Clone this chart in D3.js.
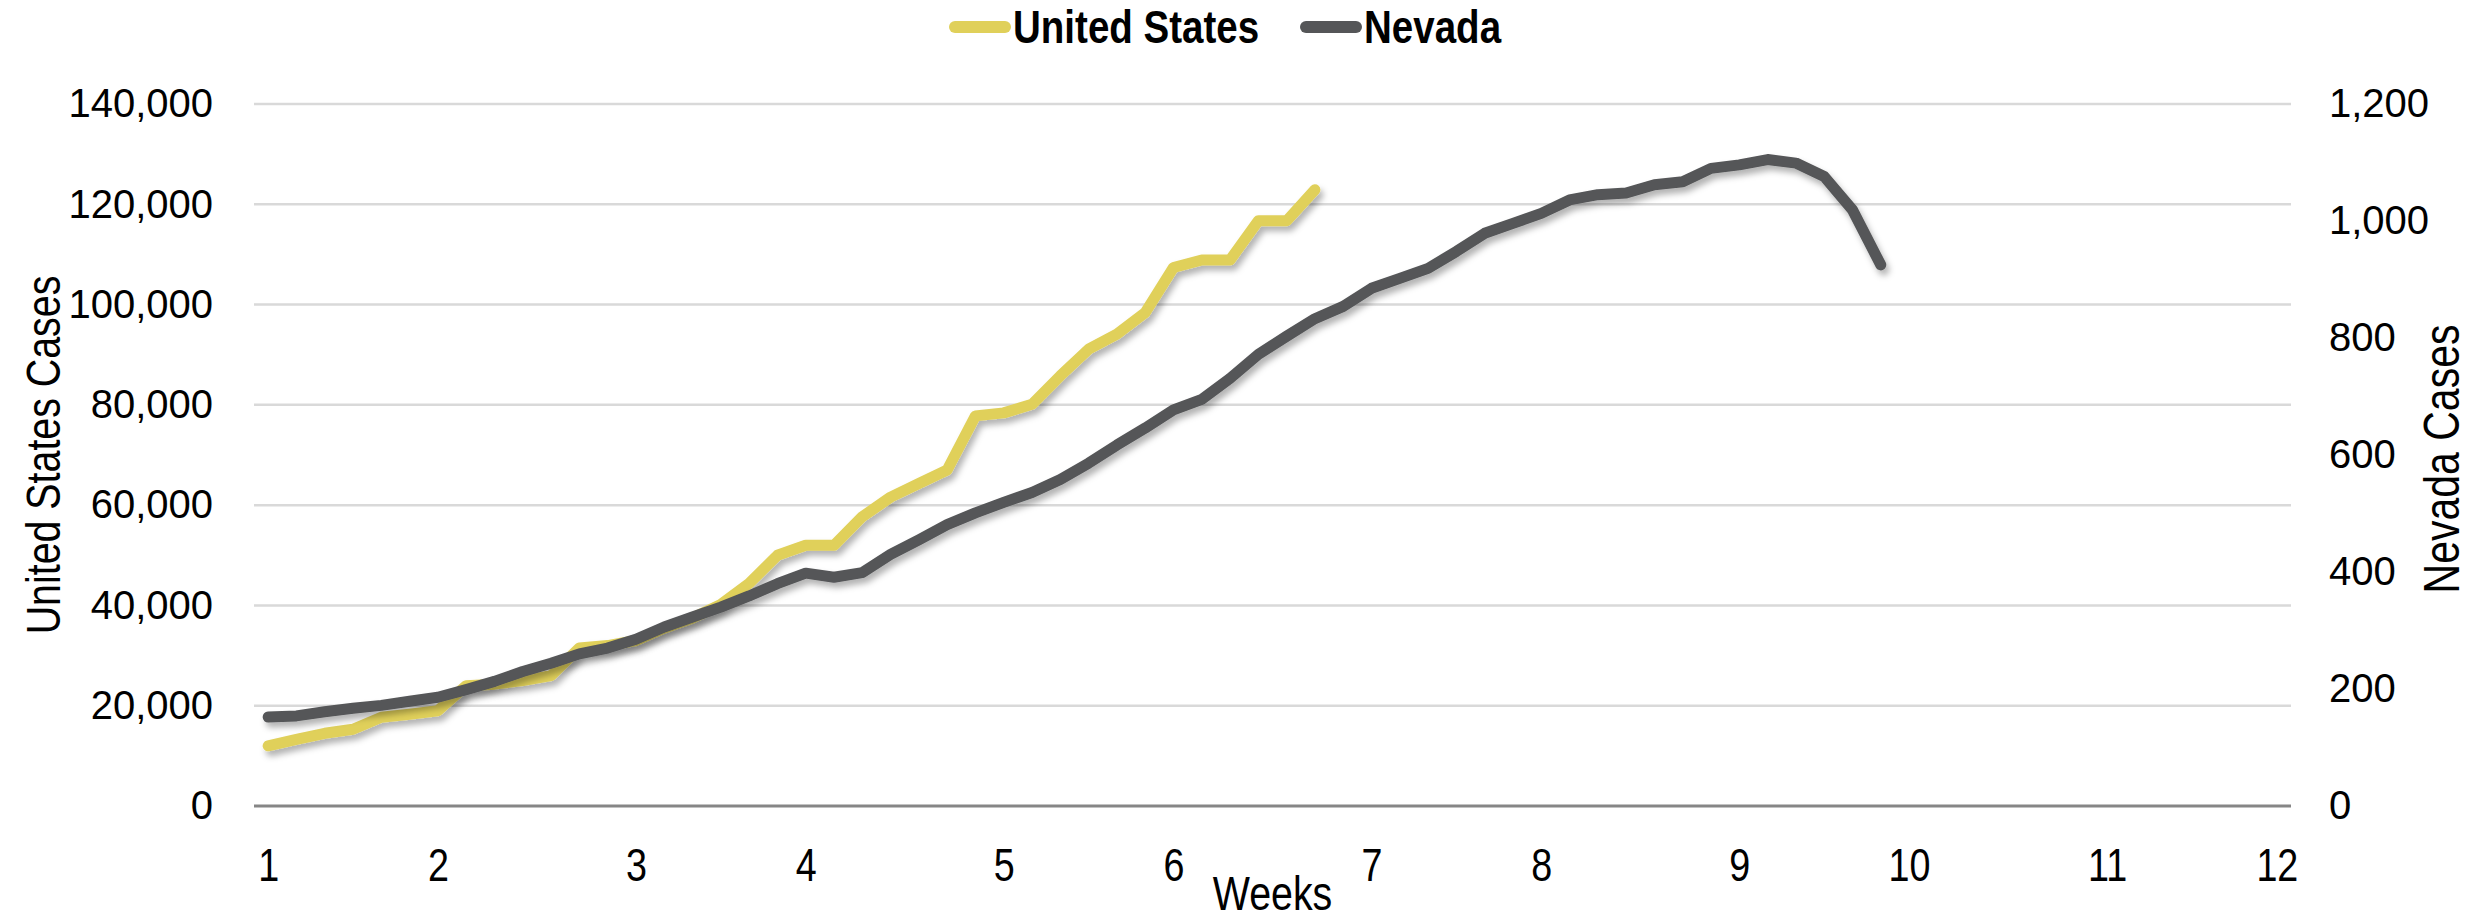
<!DOCTYPE html>
<html>
<head>
<meta charset="utf-8">
<script src="https://cdn.jsdelivr.net/npm/d3@7"></script>
<style>
    body { margin: 0; background: #fff; }
    svg text { fill: #000; }
</style>
</head>
<body>
<script>
// daily values, one entry per day starting at day 1 (week 1)
var usCases = [12000, 13300, 14500, 15300, 17700, 18300, 19000, 24000, 24300, 25000,
               26000, 31500, 32000, 33000, 35500, 37500, 40200, 44400, 50000, 52000,
               52000, 57700, 61600, 64300, 67000, 77800, 78400, 80100, 85800, 91100,
               94100, 98400, 107400, 108900, 108900, 116700, 116700, 122900];

var nevadaCases = [152, 154, 161, 167, 172, 179, 186, 199, 213, 230,
                   244, 260, 270, 285, 306, 323, 340, 359, 380, 398,
                   391, 399, 430, 455, 481, 501, 519, 536, 558, 586,
                   617, 646, 677, 695, 731, 772, 803, 833, 854, 885,
                   902, 919, 948, 979, 996, 1013, 1036, 1045, 1048, 1062,
                   1067, 1090, 1096, 1105, 1099, 1076, 1019, 925];

var numberOfDays = 72;
var weekLabels = ["1", "2", "3", "4", "5", "6", "7", "8", "9", "10", "11", "12"];
var weekTickDays = [0, 6, 13, 19, 26, 32, 39, 45, 52, 58, 65, 71];
var usTicks = [0, 20000, 40000, 60000, 80000, 100000, 120000, 140000];
var nevadaTicks = [0, 200, 400, 600, 800, 1000, 1200];

var seriesNames = ["United States", "Nevada"];
var seriesColors = ["#e0d05a", "#555658"];

var svgWidth = 2478,
    svgHeight = 922,
    plotLeft = 254,
    plotRight = 2291,
    plotTop = 104,
    plotBottom = 806,
    squeeze = "scale(0.82,1)", // no narrow font installed, so squash the regular one
    plainFont = "'Liberation Sans', Arial, sans-serif";

var svg = d3.select("body")
                .append("svg")
                    .attr("width", svgWidth)
                    .attr("height", svgHeight);

var defs = svg.append("defs");
defs.append("filter")
        .attr("id", "shadow")
        .attr("x", "-5%").attr("y", "-5%")
        .attr("width", "110%").attr("height", "115%")
    .append("feDropShadow")
        .attr("dx", 3)
        .attr("dy", 5)
        .attr("stdDeviation", 3)
        .attr("flood-color", "#000")
        .attr("flood-opacity", 0.3);

var x = d3.scaleLinear()
            .domain([-0.5, numberOfDays - 0.5])
            .range([plotLeft, plotRight]);

var yLeft = d3.scaleLinear()
            .domain([0, 140000])
            .range([plotBottom, plotTop]);

var yRight = d3.scaleLinear()
            .domain([0, 1200])
            .range([plotBottom, plotTop]);

// gridlines follow the left axis
svg.append("g")
    .selectAll("line")
        .data(usTicks.filter(function(d) { return d > 0; }))
            .enter()
                .append("line")
                    .attr("x1", plotLeft)
                    .attr("x2", plotRight)
                    .attr("y1", function(d) { return yLeft(d); })
                    .attr("y2", function(d) { return yLeft(d); })
                    .style("stroke", "#d9d9d9")
                    .style("stroke-width", 2.5);

svg.append("line")
    .attr("x1", plotLeft)
    .attr("x2", plotRight)
    .attr("y1", yLeft(0))
    .attr("y2", yLeft(0))
    .style("stroke", "#868686")
    .style("stroke-width", 3);

// left axis
var leftAxis = svg.append("g")
                .attr("transform", "translate(" + (plotLeft - 41) + ",0)")
                .call(d3.axisLeft(yLeft)
                        .tickValues(usTicks)
                        .tickSize(0)
                        .tickPadding(0)
                        .tickFormat(d3.format(",")));
leftAxis.select(".domain").remove();
leftAxis.selectAll("text")
    .style("font-family", plainFont)
    .style("font-size", "40px")
    .style("fill", "#000");

// right axis
var rightAxis = svg.append("g")
                .attr("transform", "translate(" + (plotRight + 38) + ",0)")
                .call(d3.axisRight(yRight)
                        .tickValues(nevadaTicks)
                        .tickSize(0)
                        .tickPadding(0)
                        .tickFormat(d3.format(",")));
rightAxis.select(".domain").remove();
rightAxis.selectAll("text")
    .style("font-family", plainFont)
    .style("font-size", "40px")
    .style("fill", "#000");

// bottom axis, week labels sit on their first day
var bottomAxis = svg.append("g")
                .attr("transform", "translate(0," + (plotBottom + 42) + ")")
                .call(d3.axisBottom(x)
                        .tickValues(weekTickDays)
                        .tickSize(0)
                        .tickPadding(0)
                        .tickFormat(function(d, i) { return weekLabels[i]; }));
bottomAxis.select(".domain").remove();
bottomAxis.selectAll("text")
    .attr("dy", "0.72em")
    .attr("transform", squeeze)
    .style("font-family", plainFont)
    .style("font-size", "46px")
    .style("fill", "#000");

// axis titles
svg.append("text")
    .text("United States Cases")
    .attr("transform", "translate(43," + ((plotTop + plotBottom) / 2) + ") rotate(-90) " + squeeze)
    .attr("text-anchor", "middle")
    .attr("dominant-baseline", "central")
    .style("font-family", plainFont)
    .style("font-size", "48px");

svg.append("text")
    .text("Nevada Cases")
    .attr("transform", "translate(2442," + ((plotTop + plotBottom) / 2 + 4) + ") rotate(-90) " + squeeze)
    .attr("text-anchor", "middle")
    .attr("dominant-baseline", "central")
    .style("font-family", plainFont)
    .style("font-size", "50px");

svg.append("text")
    .text("Weeks")
    .attr("transform", "translate(" + ((plotLeft + plotRight) / 2) + ",893) " + squeeze)
    .attr("text-anchor", "middle")
    .attr("dominant-baseline", "central")
    .style("font-family", plainFont)
    .style("font-size", "48px");

// lines
var lineUS = d3.line()
                .x(function(d, i) { return x(i); })
                .y(function(d) { return yLeft(d); });

var lineNV = d3.line()
                .x(function(d, i) { return x(i); })
                .y(function(d) { return yRight(d); });

svg.append("path")
    .datum(usCases)
    .attr("d", lineUS)
    .attr("filter", "url(#shadow)")
    .style("fill", "none")
    .style("stroke", seriesColors[0])
    .style("stroke-width", 11)
    .style("stroke-linejoin", "round")
    .style("stroke-linecap", "round");

svg.append("path")
    .datum(nevadaCases)
    .attr("d", lineNV)
    .attr("filter", "url(#shadow)")
    .style("fill", "none")
    .style("stroke", seriesColors[1])
    .style("stroke-width", 11)
    .style("stroke-linejoin", "round")
    .style("stroke-linecap", "round");

// legend
var legend = svg.append("g").attr("id", "legend");
var legendX = [949, 1300];
var legendItems = legend.selectAll("g")
                    .data(seriesNames)
                        .enter()
                            .append("g")
                                .attr("transform", function(d, i) { return "translate(" + legendX[i] + ",27)"; });

legendItems.append("line")
    .attr("x1", 6)
    .attr("x2", 56)
    .style("stroke", function(d, i) { return seriesColors[i]; })
    .style("stroke-width", 12)
    .style("stroke-linecap", "round");

legendItems.append("text")
    .text(function(d) { return d; })
    .attr("transform", "translate(64,0) " + squeeze)
    .attr("dominant-baseline", "central")
    .style("font-family", plainFont)
    .style("font-weight", "bold")
    .style("font-size", "47px");
</script>
</body>
</html>
